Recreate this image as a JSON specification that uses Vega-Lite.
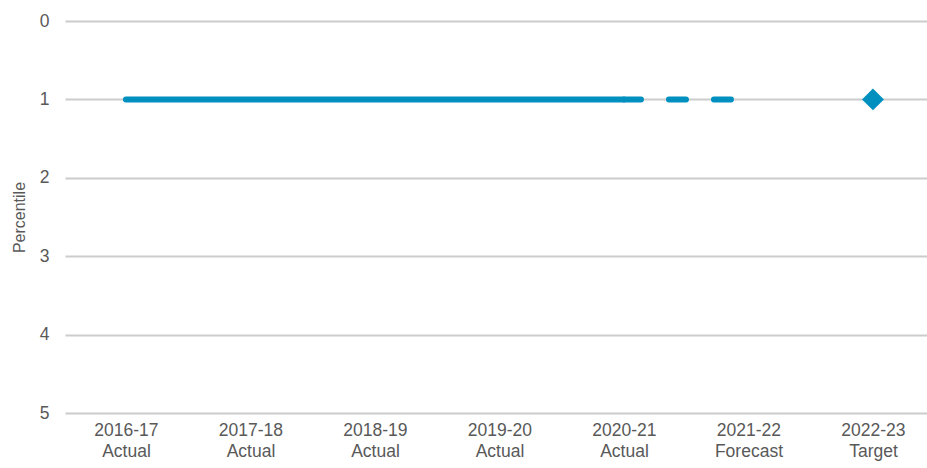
{
  "$schema": "https://vega.github.io/schema/vega-lite/v6.json",
  "width": 862,
  "height": 392,
  "autosize": {"type": "none"},
  "padding": {"left": 65, "top": 21, "right": 0, "bottom": 55},
  "background": "white",
  "config": {
    "view": {"stroke": null},
    "font": "Liberation Sans",
    "axis": {"labelColor": "#595959", "titleColor": "#595959", "labelFont": "Liberation Sans", "titleFont": "Liberation Sans"}
  },
  "data": {
    "values": [
      {"year": "2016-17", "label": "2016-17|Actual", "value": 1, "series": "actual"},
      {"year": "2017-18", "label": "2017-18|Actual", "value": 1, "series": "actual"},
      {"year": "2018-19", "label": "2018-19|Actual", "value": 1, "series": "actual"},
      {"year": "2019-20", "label": "2019-20|Actual", "value": 1, "series": "actual"},
      {"year": "2020-21", "label": "2020-21|Actual", "value": 1, "series": "actual"},
      {"year": "2020-21", "label": "2020-21|Actual", "value": 1, "series": "forecast"},
      {"year": "2021-22", "label": "2021-22|Forecast", "value": 1, "series": "forecast"},
      {"year": "2022-23", "label": "2022-23|Target", "value": 1, "series": "target"}
    ]
  },
  "encoding": {
    "x": {
      "field": "label",
      "type": "ordinal",
      "sort": null,
      "scale": {"type": "point", "padding": 0.4618, "align": 0.53},
      "axis": {
        "title": null,
        "labelAngle": 0,
        "labelExpr": "split(datum.label, '|')",
        "labelFontSize": 17.5,
        "labelLineHeight": 21,
        "labelPadding": 8,
        "ticks": false,
        "domain": false,
        "grid": false
      }
    },
    "y": {
      "field": "value",
      "type": "quantitative",
      "scale": {"domain": [0, 5], "reverse": true, "nice": false},
      "axis": {
        "title": "Percentile",
        "titleFontSize": 16,
        "titleFontWeight": "normal",
        "titlePadding": 12,
        "values": [0, 1, 2, 3, 4, 5],
        "labelFontSize": 17.5,
        "labelPadding": 16,
        "ticks": false,
        "domain": false,
        "grid": true,
        "gridColor": "#cccccc",
        "gridWidth": 2
      }
    }
  },
  "layer": [
    {
      "transform": [{"filter": "datum.series === 'actual'"}],
      "mark": {"type": "line", "color": "#0090bf", "strokeWidth": 6, "strokeCap": "round"}
    },
    {
      "transform": [{"filter": "datum.series === 'forecast'"}],
      "mark": {"type": "line", "color": "#0090bf", "strokeWidth": 6, "strokeCap": "round", "strokeDash": [17, 28]}
    },
    {
      "transform": [{"filter": "datum.series === 'target'"}],
      "mark": {"type": "point", "shape": "diamond", "filled": true, "color": "#0090bf", "opacity": 1, "size": 480}
    }
  ]
}
